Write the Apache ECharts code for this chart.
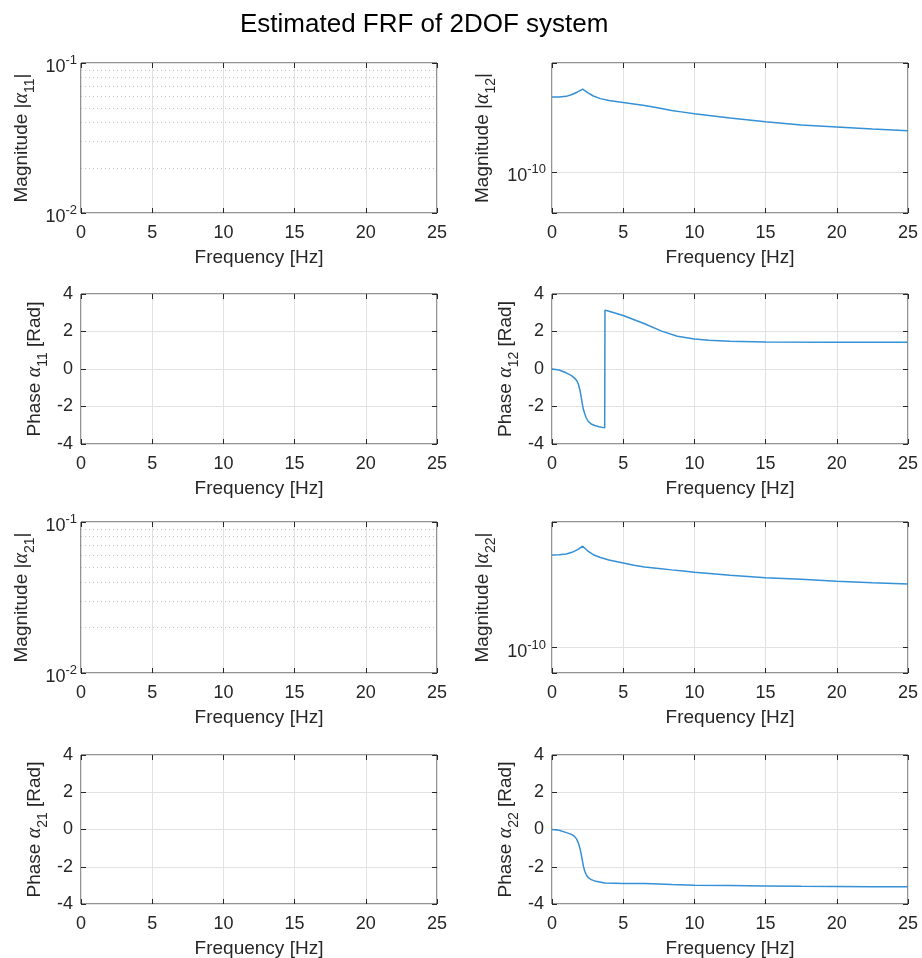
<!DOCTYPE html>
<html><head><meta charset="utf-8">
<script src="https://cdn.jsdelivr.net/npm/echarts@6/dist/echarts.min.js"></script>
<style>html,body{margin:0;padding:0;background:#fff}#c{width:922px;height:958px}</style>
</head><body><div id="c"></div>
<script>
// ---------------- data ----------------
const freqTicks = [0, 5, 10, 15, 20, 25];
const phaseTicks = [-4, -2, 0, 2, 4];

const freqMag12 = [0, 0.5, 1.0, 1.4, 1.8, 2.15, 2.5, 2.9, 3.4, 4.0, 5, 5.75, 6.5, 7.0, 7.5, 8.4, 9.2, 10, 12.5, 15, 17.5, 20, 22.5, 25];
const mag12 = [2.34e-10, 2.345e-10, 2.36e-10, 2.41e-10, 2.48e-10, 2.56e-10, 2.46e-10, 2.37e-10, 2.30e-10, 2.25e-10, 2.20e-10, 2.165e-10, 2.13e-10, 2.10e-10, 2.07e-10, 2.01e-10, 1.975e-10, 1.94e-10, 1.85e-10, 1.77e-10, 1.71e-10, 1.67e-10, 1.63e-10, 1.60e-10];

const freqMag22 = [0, 0.5, 1.0, 1.4, 1.8, 2.15, 2.5, 2.9, 3.4, 4.0, 5, 5.75, 6.5, 7.5, 8.4, 9.2, 10, 12.5, 15, 17.5, 20, 22.5, 25];
const mag22 = [2.50e-10, 2.51e-10, 2.53e-10, 2.57e-10, 2.64e-10, 2.73e-10, 2.61e-10, 2.51e-10, 2.44e-10, 2.38e-10, 2.31e-10, 2.26e-10, 2.22e-10, 2.19e-10, 2.16e-10, 2.135e-10, 2.11e-10, 2.05e-10, 2.00e-10, 1.97e-10, 1.93e-10, 1.90e-10, 1.88e-10];

const freqPh12 = [0, 0.5, 0.9, 1.37, 1.6, 1.73, 1.85, 1.97, 2.05, 2.13, 2.2, 2.3, 2.4, 2.55, 2.75, 3.0, 3.3, 3.7, 3.72, 4.0, 5, 6.5, 7.7, 8.8, 10, 11, 12.5, 15, 20, 25];
const phase12 = [0, -0.05, -0.17, -0.35, -0.5, -0.61, -0.8, -1.15, -1.5, -1.86, -2.15, -2.39, -2.6, -2.8, -2.93, -3.01, -3.08, -3.14, 3.14, 3.08, 2.85, 2.41, 2.02, 1.75, 1.6, 1.53, 1.48, 1.44, 1.43, 1.43];

const freqPh22 = [0, 0.5, 0.9, 1.37, 1.6, 1.73, 1.85, 1.97, 2.05, 2.13, 2.2, 2.3, 2.4, 2.55, 2.75, 3.0, 3.7, 5, 6.5, 7.5, 8.4, 10, 12.5, 15, 17.5, 20, 22.5, 25];
const phase22 = [0, -0.04, -0.14, -0.26, -0.38, -0.52, -0.72, -1.04, -1.32, -1.64, -1.95, -2.24, -2.42, -2.59, -2.69, -2.76, -2.87, -2.90, -2.90, -2.92, -2.95, -2.99, -3.01, -3.03, -3.05, -3.06, -3.07, -3.08];

const emptyMagRange = [0.01, 0.1];
const emptyMagMinor = [0.02, 0.03, 0.04, 0.05, 0.06, 0.07, 0.08, 0.09];
const mag12Range = [6.32e-11, 3.44e-10];
const mag22Range = [7.78e-11, 3.47e-10];
const magMinorRight = [2e-10];

const titleText = 'Estimated FRF of 2DOF system';
const xName = 'Frequency [Hz]';

// ---------------- build ----------------
const FONT = '"Liberation Sans", Arial, Helvetica, sans-serif';
const INK = '#262626';
const GRIDC = '#e2e2e2';
const DOTC = '#c4c4c4';
const LINEC = '#3590d6';

const colLeft = [81, 552];
const colW = 356;
const rows = [{ top: 63, h: 150 }, { top: 294, h: 150 }, { top: 522, h: 151 }, { top: 755, h: 149 }];

function zip(a, b) { return a.map((v, i) => [v, b[i]]); }
function logLabel(v) {
  const e = Math.log10(v); const r = Math.round(e);
  if (Math.abs(e - r) > 1e-6) return '';
  return '{b|10}{s|' + r + '}';
}
function magName(sub) { return '{t|Magnitude |}{g|α}{sub|' + sub + '}{t||}'; }
function phName(sub) { return '{t|Phase }{g|α}{sub|' + sub + '}{t| [Rad]}'; }

const nameRich = {
  t: { fontSize: 19, fontFamily: FONT, color: INK, lineHeight: 30, verticalAlign: 'middle' },
  g: { fontSize: 20, fontFamily: '"Liberation Serif", "DejaVu Serif", serif', fontStyle: 'italic', color: INK, lineHeight: 30, verticalAlign: 'middle' },
  sub: { fontSize: 14, fontFamily: FONT, color: INK, lineHeight: 14, verticalAlign: 'bottom' }
};

const panels = [
  { r: 0, c: 0, kind: 'mag', range: emptyMagRange, minor: emptyMagMinor, name: magName('11'), gap: 44, lm: 4, data: [] },
  { r: 0, c: 1, kind: 'mag', range: mag12Range, minor: magMinorRight, name: magName('12'), gap: 54, lm: 6, data: zip(freqMag12, mag12) },
  { r: 1, c: 0, kind: 'ph', name: phName('11'), gap: 31, data: [] },
  { r: 1, c: 1, kind: 'ph', name: phName('12'), gap: 31, data: zip(freqPh12, phase12) },
  { r: 2, c: 0, kind: 'mag', range: emptyMagRange, minor: emptyMagMinor, name: magName('21'), gap: 44, lm: 4, data: [] },
  { r: 2, c: 1, kind: 'mag', range: mag22Range, minor: magMinorRight, name: magName('22'), gap: 54, lm: 6, data: zip(freqMag22, mag22) },
  { r: 3, c: 0, kind: 'ph', name: phName('21'), gap: 31, data: [] },
  { r: 3, c: 1, kind: 'ph', name: phName('22'), gap: 31, data: zip(freqPh22, phase22) }
];

const grid = [], xAxis = [], yAxis = [], series = [];
const tickStyle = { inside: true, length: 5, lineStyle: { color: INK, width: 1 } };

panels.forEach((p, i) => {
  grid.push({ left: colLeft[p.c], top: rows[p.r].top, width: colW, height: rows[p.r].h,
    show: true, borderColor: INK, borderWidth: 1, backgroundColor: '#fff', containLabel: false, outerBoundsMode: 'none' });
  xAxis.push({ gridIndex: i, type: 'value', min: freqTicks[0], max: freqTicks[freqTicks.length - 1], interval: freqTicks[1] - freqTicks[0],
    position: 'bottom', axisLine: { show: false, onZero: false }, axisTick: tickStyle,
    axisLabel: { color: INK, fontSize: 18, fontFamily: FONT, margin: 11 },
    splitLine: { show: true, lineStyle: { color: GRIDC, width: 1 } },
    name: xName, nameLocation: 'middle', nameGap: 35,
    nameTextStyle: { color: INK, fontSize: 19, fontFamily: FONT } });
  xAxis.push({ gridIndex: i, type: 'value', min: freqTicks[0], max: freqTicks[freqTicks.length - 1], interval: freqTicks[1] - freqTicks[0],
    position: 'top', axisLine: { show: false, onZero: false }, axisTick: tickStyle,
    axisLabel: { show: false }, splitLine: { show: false } });
  if (p.kind === 'mag') {
    const common = { gridIndex: i, type: 'log', logBase: 10, min: p.range[0], max: p.range[1] };
    yAxis.push(Object.assign({}, common, { position: 'left', axisLine: { show: false, onZero: false }, axisTick: tickStyle,
      axisLabel: { formatter: logLabel, margin: p.lm, color: INK, padding: [4, 0, 0, 0],
        rich: { b: { fontSize: 18, fontFamily: FONT, color: INK, lineHeight: 22, verticalAlign: 'bottom' },
                s: { fontSize: 13, fontFamily: FONT, color: INK, lineHeight: 13, verticalAlign: 'top' } } },
      splitLine: { show: true, lineStyle: { color: GRIDC, width: 1 } },
      name: p.name, nameLocation: 'middle', nameGap: p.gap, nameRotate: 90, nameTextStyle: { rich: nameRich } }));
    yAxis.push(Object.assign({}, common, { position: 'right', axisLine: { show: false, onZero: false }, axisTick: tickStyle,
      axisLabel: { show: false }, splitLine: { show: false } }));
  } else {
    const common = { gridIndex: i, type: 'value', min: phaseTicks[0], max: phaseTicks[phaseTicks.length - 1], interval: phaseTicks[1] - phaseTicks[0] };
    yAxis.push(Object.assign({}, common, { position: 'left', axisLine: { show: false, onZero: false }, axisTick: tickStyle,
      axisLabel: { color: INK, fontSize: 18, fontFamily: FONT, margin: 8 },
      splitLine: { show: true, lineStyle: { color: GRIDC, width: 1 } },
      name: p.name, nameLocation: 'middle', nameGap: p.gap, nameRotate: 90, nameTextStyle: { rich: nameRich } }));
    yAxis.push(Object.assign({}, common, { position: 'right', axisLine: { show: false, onZero: false }, axisTick: tickStyle,
      axisLabel: { show: false }, splitLine: { show: false } }));
  }
  const s = { type: 'line', xAxisIndex: 2 * i, yAxisIndex: 2 * i, data: p.data, showSymbol: false, symbol: 'none',
    lineStyle: { color: LINEC, width: 1.5 }, itemStyle: { color: LINEC }, animation: false, silent: true };
  if (p.minor) {
    s.markLine = { silent: true, symbol: 'none', animation: false, label: { show: false },
      lineStyle: { color: DOTC, type: [1, 3], width: 1 }, data: p.minor.map(v => ({ yAxis: v })) };
  }
  series.push(s);
});

const chart = echarts.init(document.getElementById('c'), null, { renderer: 'canvas' });
chart.setOption({
  animation: false,
  backgroundColor: '#fff',
  title: { text: titleText, left: 235, top: 7, textStyle: { fontSize: 26, fontWeight: 'normal', color: '#000', fontFamily: FONT } },
  grid, xAxis, yAxis, series
});
</script>
</body></html>
